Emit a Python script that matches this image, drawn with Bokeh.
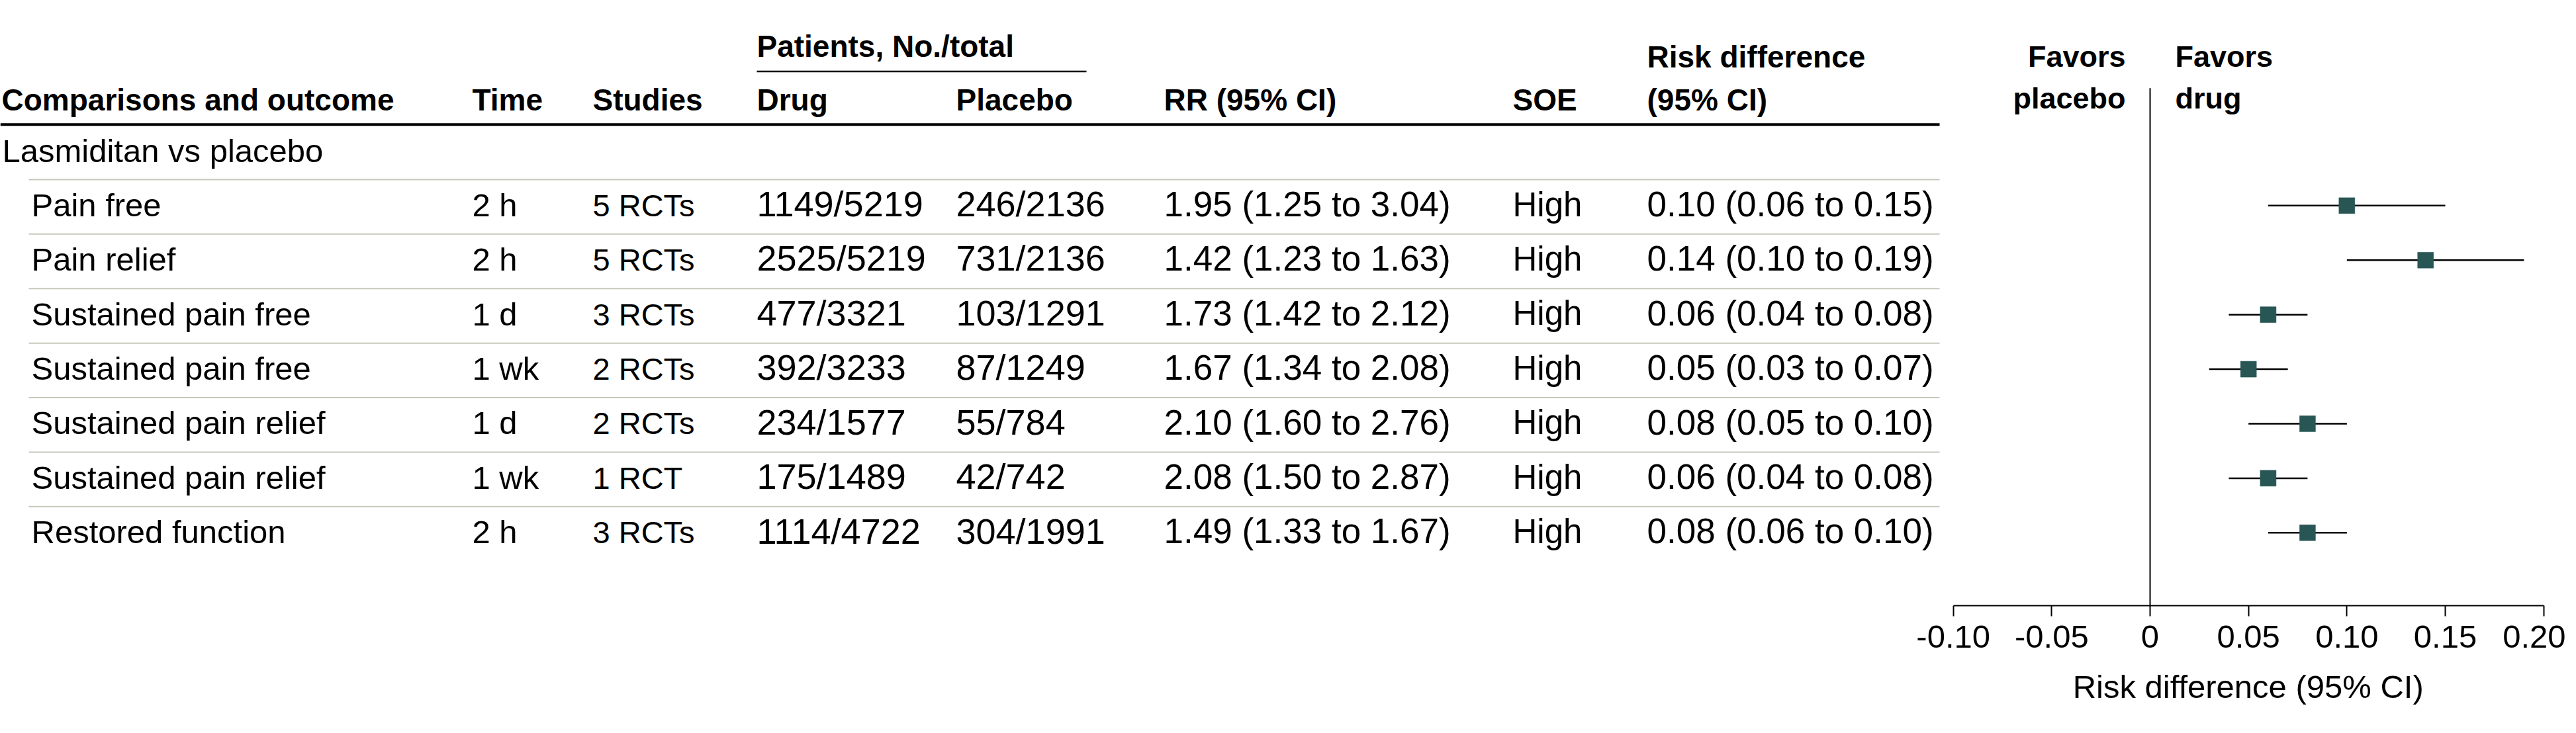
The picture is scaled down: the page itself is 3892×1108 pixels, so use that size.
from bokeh.plotting import figure
from bokeh.models import Range1d, LinearAxis, FixedTicker, CustomJSTickFormatter, Title
from bokeh.core.properties import value
from bokeh.embed import file_html
from bokeh.resources import INLINE

# ---------------- data ----------------
group_label = "Lasmiditan vs placebo"
outcomes = ["Pain free", "Pain relief", "Sustained pain free", "Sustained pain free",
            "Sustained pain relief", "Sustained pain relief", "Restored function"]
times = ["2 h", "2 h", "1 d", "1 wk", "1 d", "1 wk", "2 h"]
studies = ["5 RCTs", "5 RCTs", "3 RCTs", "2 RCTs", "2 RCTs", "1 RCT", "3 RCTs"]
drug = ["1149/5219", "2525/5219", "477/3321", "392/3233", "234/1577", "175/1489", "1114/4722"]
placebo = ["246/2136", "731/2136", "103/1291", "87/1249", "55/784", "42/742", "304/1991"]
rr = [1.95, 1.42, 1.73, 1.67, 2.10, 2.08, 1.49]
rr_lo = [1.25, 1.23, 1.42, 1.34, 1.60, 1.50, 1.33]
rr_hi = [3.04, 1.63, 2.12, 2.08, 2.76, 2.87, 1.67]
soe = ["High", "High", "High", "High", "High", "High", "High"]
rd = [0.10, 0.14, 0.06, 0.05, 0.08, 0.06, 0.08]
rd_lo = [0.06, 0.10, 0.04, 0.03, 0.05, 0.04, 0.06]
rd_hi = [0.15, 0.19, 0.08, 0.07, 0.10, 0.08, 0.10]
tick_values = [-0.10, -0.05, 0.0, 0.05, 0.10, 0.15, 0.20]
tick_labels = ["-0.10", "-0.05", "0", "0.05", "0.10", "0.15", "0.20"]
axis_bounds = (-0.10, 0.20)
axis_title = "Risk difference (95% CI)"

# ---------------- layout (screen px) ----------------
FONT = "Liberation Sans"
W, H = 3876, 1092
FRAME_BOTTOM = 916
ROW0, PITCH = 310.7, 82.5
ZERO_PX, PPU = 3248.0, 2973.3
TABLE_RIGHT = 2930
BASE_CORR = 0.33   # renderer places alphabetic baseline ~0.33em low
ROW_BASE = 15      # text baseline below row centre (px)


def ry(sy):
    return (sy - ROW0) / PITCH


rows = list(range(len(outcomes)))

p = figure(width=W, height=H, output_backend="svg", toolbar_location=None,
           x_range=Range1d(0, W),
           y_range=Range1d(ry(FRAME_BOTTOM), ry(0)),
           x_axis_location=None, y_axis_location=None,
           min_border_left=0, min_border_right=0, min_border_top=0,
           min_border_bottom=H - FRAME_BOTTOM,
           outline_line_color=None, background_fill_color="white",
           border_fill_color="white")
p.grid.visible = False
p.extra_x_ranges = {"rd": Range1d((0 - ZERO_PX) / PPU, (W - ZERO_PX) / PPU)}


def txt(x, y_base_px, t, size, bold=False, align="left", xr="default", xoff=0, rowbase=None):
    if rowbase is not None:
        y = [r + (y_base_px - BASE_CORR * size) / PITCH for r in rowbase]
    else:
        y = [ry(b - BASE_CORR * size) for b in y_base_px]
    p.text(x=x, y=y, text=t, text_font=value(FONT), text_font_size=f"{size}px",
           text_font_style="bold" if bold else "normal", text_baseline="alphabetic",
           text_align=align, text_color="black", x_range_name=xr, x_offset=xoff)


# header
HB = 165.5
hdr_text = ["Comparisons and outcome", "Time", "Studies", "Drug", "Placebo",
            "RR (95% CI)", "SOE", "(95% CI)"]
hdr_x = [2, 713, 895, 1143, 1444, 1758, 2285, 2488]
txt(hdr_x, [HB] * len(hdr_x), hdr_text, 46, bold=True)
txt([1143], [85], ["Patients, No./total"], 46, bold=True)
txt([2488], [101], ["Risk difference"], 46, bold=True)
txt([0.0], [100], ["Favors"], 45, bold=True, align="right", xr="rd", xoff=-37)
txt([0.0], [163.3], ["placebo"], 45, bold=True, align="right", xr="rd", xoff=-37)
txt([0.0], [100], ["Favors"], 45, bold=True, align="left", xr="rd", xoff=38)
txt([0.0], [163.3], ["drug"], 45, bold=True, align="left", xr="rd", xoff=38)

# rules
p.segment(x0=[1143], x1=[1641], y0=[ry(107.7)], y1=[ry(107.7)], line_color="black", line_width=2.5)
p.segment(x0=[0], x1=[TABLE_RIGHT], y0=[ry(188)], y1=[ry(188)], line_color="black", line_width=4)
rule_y = [r - 39.5 / PITCH for r in rows]
p.segment(x0=43, x1=TABLE_RIGHT, y0=rule_y, y1=rule_y, line_color="#c6c9bb", line_width=2)

# group label
txt([3], [244], [group_label], 49)

# table body
n = len(rows)
txt([47] * n, ROW_BASE, outcomes, 49, rowbase=rows)
txt([713] * n, ROW_BASE, times, 49, rowbase=rows)
txt([895] * n, ROW_BASE, studies, 47, rowbase=rows)
txt([1143] * n, ROW_BASE, drug, 54, rowbase=rows)
txt([1444] * n, ROW_BASE, placebo, 54, rowbase=rows)
rr_text = [f"{a:.2f} ({b:.2f} to {c:.2f})" for a, b, c in zip(rr, rr_lo, rr_hi)]
txt([1758] * n, ROW_BASE, rr_text, 53, rowbase=rows)
txt([2285] * n, ROW_BASE, soe, 51, rowbase=rows)
rd_text = [f"{a:.2f} ({b:.2f} to {c:.2f})" for a, b, c in zip(rd, rd_lo, rd_hi)]
txt([2488] * n, ROW_BASE, rd_text, 53, rowbase=rows)

# forest plot
p.segment(x0=[0.0], x1=[0.0], y0=[ry(133)], y1=[ry(FRAME_BOTTOM)], x_range_name="rd",
          line_color="black", line_width=2)
p.segment(x0=rd_lo, x1=rd_hi, y0=rows, y1=rows, x_range_name="rd",
          line_color="black", line_width=2.5)
p.scatter(x=rd, y=rows, marker="square", size=24, x_range_name="rd",
          fill_color="#285654", line_color="#285654", line_width=0.5)

ax = LinearAxis(x_range_name="rd", bounds=axis_bounds,
                ticker=FixedTicker(ticks=tick_values),
                formatter=CustomJSTickFormatter(args=dict(v=tick_values, l=tick_labels), code="""
for (let i = 0; i < v.length; i++) { if (Math.abs(tick - v[i]) < 1e-9) return l[i]; }
return tick.toFixed(2);
"""))
ax.axis_line_width = 2
ax.axis_line_color = "black"
ax.major_tick_line_width = 2
ax.major_tick_line_color = "black"
ax.major_tick_out = 16
ax.major_tick_in = 0
ax.minor_tick_out = 0
ax.minor_tick_in = 0
ax.major_label_text_font = FONT
ax.major_label_text_font_size = "49px"
ax.major_label_text_color = "black"
ax.major_label_standoff = 14
p.add_layout(ax, "below")

# axis title centred under the axis bounds (text width ~531 px at 49px)
title_center = ZERO_PX + PPU * sum(axis_bounds) / 2
TITLE_W = 531
p.add_layout(Title(text=axis_title, align="left", offset=title_center - TITLE_W / 2,
                   text_font=FONT, text_font_size="49px", text_font_style="normal",
                   text_color="black", standoff=55), "below")

open("out.html", "w").write(file_html(p, INLINE))
